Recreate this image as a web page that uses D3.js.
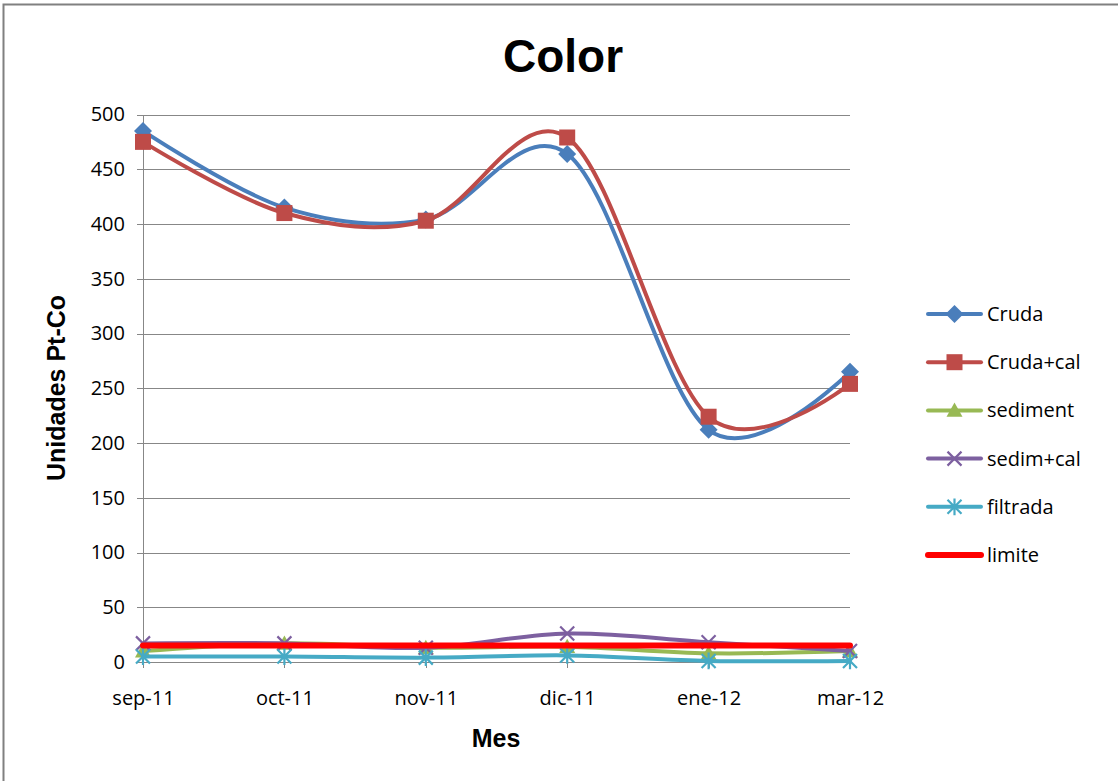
<!DOCTYPE html>
<html>
<head>
<meta charset="utf-8">
<script src="https://cdn.jsdelivr.net/npm/d3@7"></script>
<style>
  html, body { margin: 0; padding: 0; background: #fff; }
  svg { display: block; }
</style>
</head>
<body>
<script>
// ---- data ----
const months = ["sep-11", "oct-11", "nov-11", "dic-11", "ene-12", "mar-12"];
const cruda = [485, 415, 404, 464, 212, 265];
const crudaCal = [475, 410, 403, 479, 224, 254];
const sediment = [10, 17, 13, 14, 8, 10];
const sedimCal = [17, 17, 13, 26, 18, 10];
const filtrada = [5, 5, 4, 6, 1, 1];
const limite = [15, 15, 15, 15, 15, 15];
const yTicks = [0, 50, 100, 150, 200, 250, 300, 350, 400, 450, 500];
const seriesNames = ["Cruda", "Cruda+cal", "sediment", "sedim+cal", "filtrada", "limite"];

const series = [
  { name: seriesNames[0], values: cruda, color: "#4A7EBB", marker: "diamond", width: 4 },
  { name: seriesNames[1], values: crudaCal, color: "#BE4B48", marker: "square", width: 4 },
  { name: seriesNames[2], values: sediment, color: "#98B954", marker: "triangle", width: 4 },
  { name: seriesNames[3], values: sedimCal, color: "#7D60A0", marker: "x", width: 4 },
  { name: seriesNames[4], values: filtrada, color: "#46AAC5", marker: "star", width: 4 },
  { name: seriesNames[5], values: limite, color: "#FF0000", marker: "none", width: 6, straight: true }
];

const W = 1118, H = 781;
const svg = d3.select("body").append("svg").attr("width", W).attr("height", H);

// outer frame (left and top edges visible)
svg.append("path").attr("d", "M3.5,781 L3.5,4.5 L1118,4.5")
  .attr("fill", "none").attr("stroke", "#808080").attr("stroke-width", 2);

const x = d3.scalePoint().domain(months).range([143, 850]);
const y = d3.scaleLinear().domain([0, 500]).range([662, 114.5]);

const gridColor = "#878787";
const tickFont = "'Open Sans', Lato, sans-serif";
const tickSize = 20;

// horizontal gridlines with ticks
const yAxis = d3.axisLeft(y).tickValues(yTicks).tickSize(-(850 - 143)).tickPadding(14).tickSizeOuter(0);
const gy = svg.append("g").attr("transform", "translate(143,0)").call(yAxis);
gy.select(".domain").remove();
gy.selectAll(".tick line").attr("stroke", gridColor).attr("x1", -6).attr("shape-rendering", "crispEdges");
gy.selectAll(".tick text").attr("font-family", tickFont).attr("font-size", tickSize).attr("fill", "#000").attr("x", -18);

// vertical gridlines
const xAxis = d3.axisBottom(x).tickSize(-(662 - 114.5)).tickPadding(16).tickSizeOuter(0);
const gx = svg.append("g").attr("transform", "translate(0,662)").call(xAxis);
gx.select(".domain").remove();
gx.selectAll(".tick line").attr("stroke", gridColor).attr("y2", 6).attr("shape-rendering", "crispEdges");
gx.selectAll(".tick text").attr("font-family", tickFont).attr("font-size", tickSize).attr("fill", "#000")
  .attr("y", 29).attr("dy", "0.71em");

// axis lines
svg.append("line").attr("x1", 143).attr("x2", 143).attr("y1", 114.5).attr("y2", 662)
  .attr("stroke", gridColor).attr("shape-rendering", "crispEdges");
svg.append("line").attr("x1", 137).attr("x2", 850).attr("y1", 662).attr("y2", 662)
  .attr("stroke", gridColor).attr("shape-rendering", "crispEdges");

// titles
svg.append("text").attr("x", 563).attr("y", 72).attr("text-anchor", "middle")
  .attr("font-family", "'Liberation Sans', Arial, sans-serif").attr("font-weight", "bold")
  .attr("font-size", 46).text("Color");
svg.append("text").attr("x", 496).attr("y", 747).attr("text-anchor", "middle")
  .attr("font-family", "'Liberation Sans', Arial, sans-serif").attr("font-weight", "bold")
  .attr("font-size", 25).text("Mes");
svg.append("text").attr("transform", "translate(65,388) rotate(-90)").attr("text-anchor", "middle")
  .attr("font-family", "'Liberation Sans', Arial, sans-serif").attr("font-weight", "bold")
  .attr("font-size", 25).text("Unidades Pt-Co");

// marker drawing
function drawMarker(g, type, cx, cy, color) {
  if (type === "diamond") {
    const r = 9;
    g.append("path").attr("d", `M${cx},${cy - r} L${cx + r},${cy} L${cx},${cy + r} L${cx - r},${cy} Z`).attr("fill", color);
  } else if (type === "square") {
    const r = 8;
    g.append("rect").attr("x", cx - r).attr("y", cy - r).attr("width", 2 * r).attr("height", 2 * r).attr("fill", color);
  } else if (type === "triangle") {
    const r = 8;
    g.append("path").attr("d", `M${cx},${cy - r} L${cx + r},${cy + r * 0.8} L${cx - r},${cy + r * 0.8} Z`).attr("fill", color);
  } else if (type === "x") {
    const r = 7;
    g.append("path").attr("d", `M${cx - r},${cy - r} L${cx + r},${cy + r} M${cx - r},${cy + r} L${cx + r},${cy - r}`)
      .attr("stroke", color).attr("stroke-width", 2.2).attr("fill", "none");
  } else if (type === "star") {
    const r = 7;
    g.append("path").attr("d", `M${cx - r},${cy - r} L${cx + r},${cy + r} M${cx - r},${cy + r} L${cx + r},${cy - r} M${cx},${cy - r * 1.2} L${cx},${cy + r * 1.2}`)
      .attr("stroke", color).attr("stroke-width", 2.2).attr("fill", "none");
  }
}

const plot = svg.append("g");
const smoothLine = d3.line().x((d, i) => x(months[i])).y(d => y(d)).curve(d3.curveCatmullRom.alpha(0));
const straightLine = d3.line().x((d, i) => x(months[i])).y(d => y(d));

series.forEach(s => {
  const g = plot.append("g");
  g.append("path").datum(s.values)
    .attr("d", s.straight ? straightLine : smoothLine)
    .attr("fill", "none").attr("stroke", s.color).attr("stroke-width", s.width)
    .attr("stroke-linejoin", "round").attr("stroke-linecap", "round");
  if (s.marker !== "none") {
    s.values.forEach((v, i) => drawMarker(g, s.marker, x(months[i]), y(v), s.color));
  }
});

// legend
const legend = svg.append("g");
const legY0 = 314, legDy = 48.2;
series.forEach((s, i) => {
  const ly = legY0 + i * legDy;
  legend.append("line").attr("x1", 928).attr("x2", 981).attr("y1", ly).attr("y2", ly)
    .attr("stroke", s.color).attr("stroke-width", s.width).attr("stroke-linecap", "round");
  if (s.marker !== "none") drawMarker(legend, s.marker, 954.5, ly, s.color);
  legend.append("text").attr("x", 987).attr("y", ly).attr("dy", "0.35em")
    .attr("font-family", tickFont).attr("font-size", tickSize).attr("fill", "#000").text(s.name);
});
</script>
</body>
</html>
